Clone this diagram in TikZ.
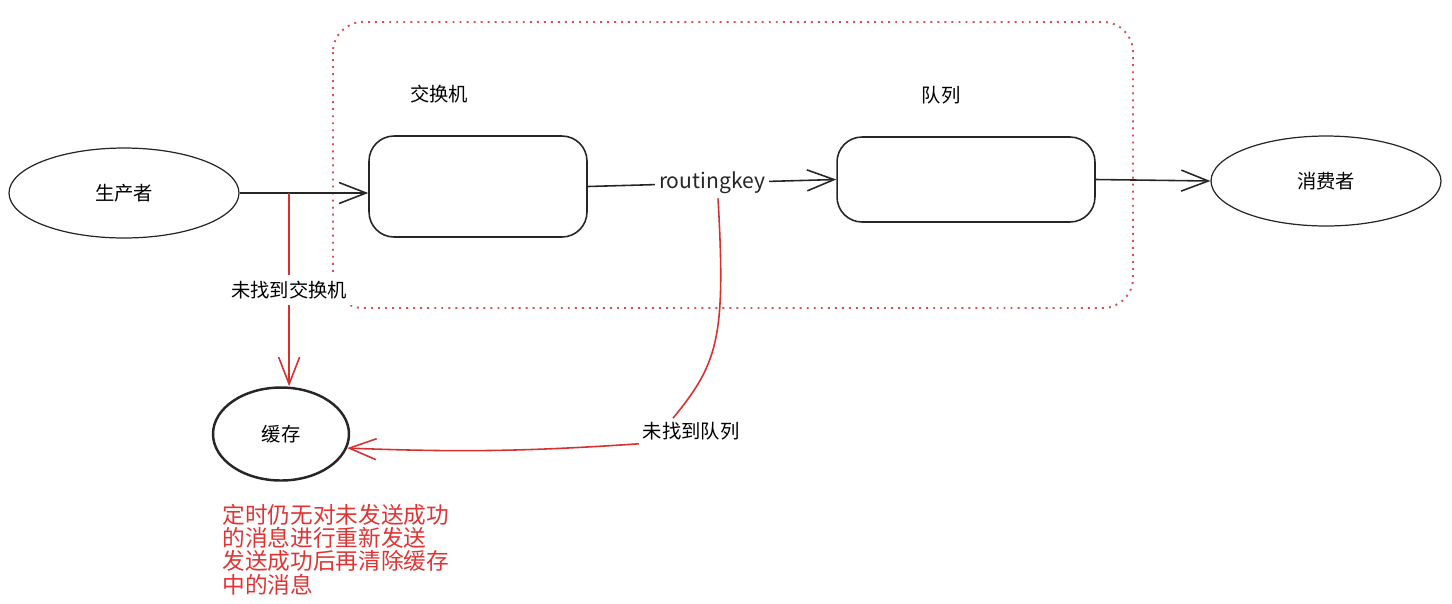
\documentclass[tikz,border=0pt]{standalone}
\usepackage{fontspec}
\setmainfont{Noto Sans CJK SC}
\usetikzlibrary{positioning, arrows.meta, calc, shapes.geometric}

\definecolor{rojo}{RGB}{214,48,49}
\definecolor{rojotexto}{RGB}{224,52,52}

\begin{document}
\begin{tikzpicture}[x=0.02cm, y=-0.02cm,
    >={Straight Barb[length=0.54cm, width=0.42cm]},
    caja/.style={draw=black!85, line width=0.9pt, rounded corners=0.5cm},
    rol/.style={draw=black!85, ellipse, line width=0.7pt, minimum width=4.6cm, minimum height=1.8cm},
    etiqueta/.style={font=\fontsize{11}{13}\selectfont, text=black},
    flecha/.style={->, line width=0.9pt, black!85},
    flecharoja/.style={->, line width=0.9pt, rojo}]

    \useasboundingbox (0,0) rectangle (1452,603);

    % --- 1. MARCO PUNTEADO DEL BROKER ---
    \draw[rojo!85, line width=1.1pt, dash pattern=on 1.1pt off 2.9pt, rounded corners=0.6cm] (333,22) rectangle (1133,308);

    % --- 2. NODOS PRINCIPALES ---
    \node[rol, etiqueta] (prod) at (124,193) {生产者};
    \node[caja, minimum width=4.36cm, minimum height=2.02cm] (exch) at (478,186.5) {};
    \node[caja, minimum width=5.16cm, minimum height=1.7cm] (cola) at (966,179.5) {};
    \node[rol, etiqueta] (cons) at (1326,181) {消费者};
    \node[rol, etiqueta, line width=1.4pt, minimum width=2.72cm, minimum height=1.86cm] (cache) at (281,434) {缓存};

    % Titulos de los bloques
    \node[etiqueta] (lexch) at (439,94) {交换机};
    \node[etiqueta] (lcola) at (941,95) {队列};

    % --- 3. FLUJO NORMAL DEL MENSAJE ---
    \draw[flecha] (prod.east) -- coordinate[pos=0.385] (rama) (prod.east -| exch.west);
    \draw[flecha] (exch.east) -- node[fill=white, inner sep=2pt, font=\fontsize{12}{14}\selectfont] (rk) {routingkey} (cola.west);
    \draw[flecha] (cola.east) -- (cons.west);

    % --- 4. RUTAS DE FALLO (rojo) ---
    \draw[flecharoja] (rama) -- node[fill=white, etiqueta] (nexch) {未找到交换机} (rama |- cache.north);

    \node[etiqueta, inner sep=2pt] (ncola) at (691,431) {未找到队列};
    \draw[rojo, line width=0.9pt] ([xshift=0.12cm]rk.south) .. controls +(8,140) and +(45,-55) .. ([xshift=-0.36cm]ncola.north);
    \draw[flecharoja] (ncola.south west) to[bend left=3] (cache.-12);

    % --- 5. NOTA DE REENVIO ---
    \node[anchor=north west, align=left, text=rojotexto, font=\fontsize{12.9}{13.2}\selectfont, inner sep=0pt] (nota) at (222,504)
        {定时仍无对未发送成功\\的消息进行重新发送\\发送成功后再清除缓存\\中的消息};

\end{tikzpicture}
\end{document}
